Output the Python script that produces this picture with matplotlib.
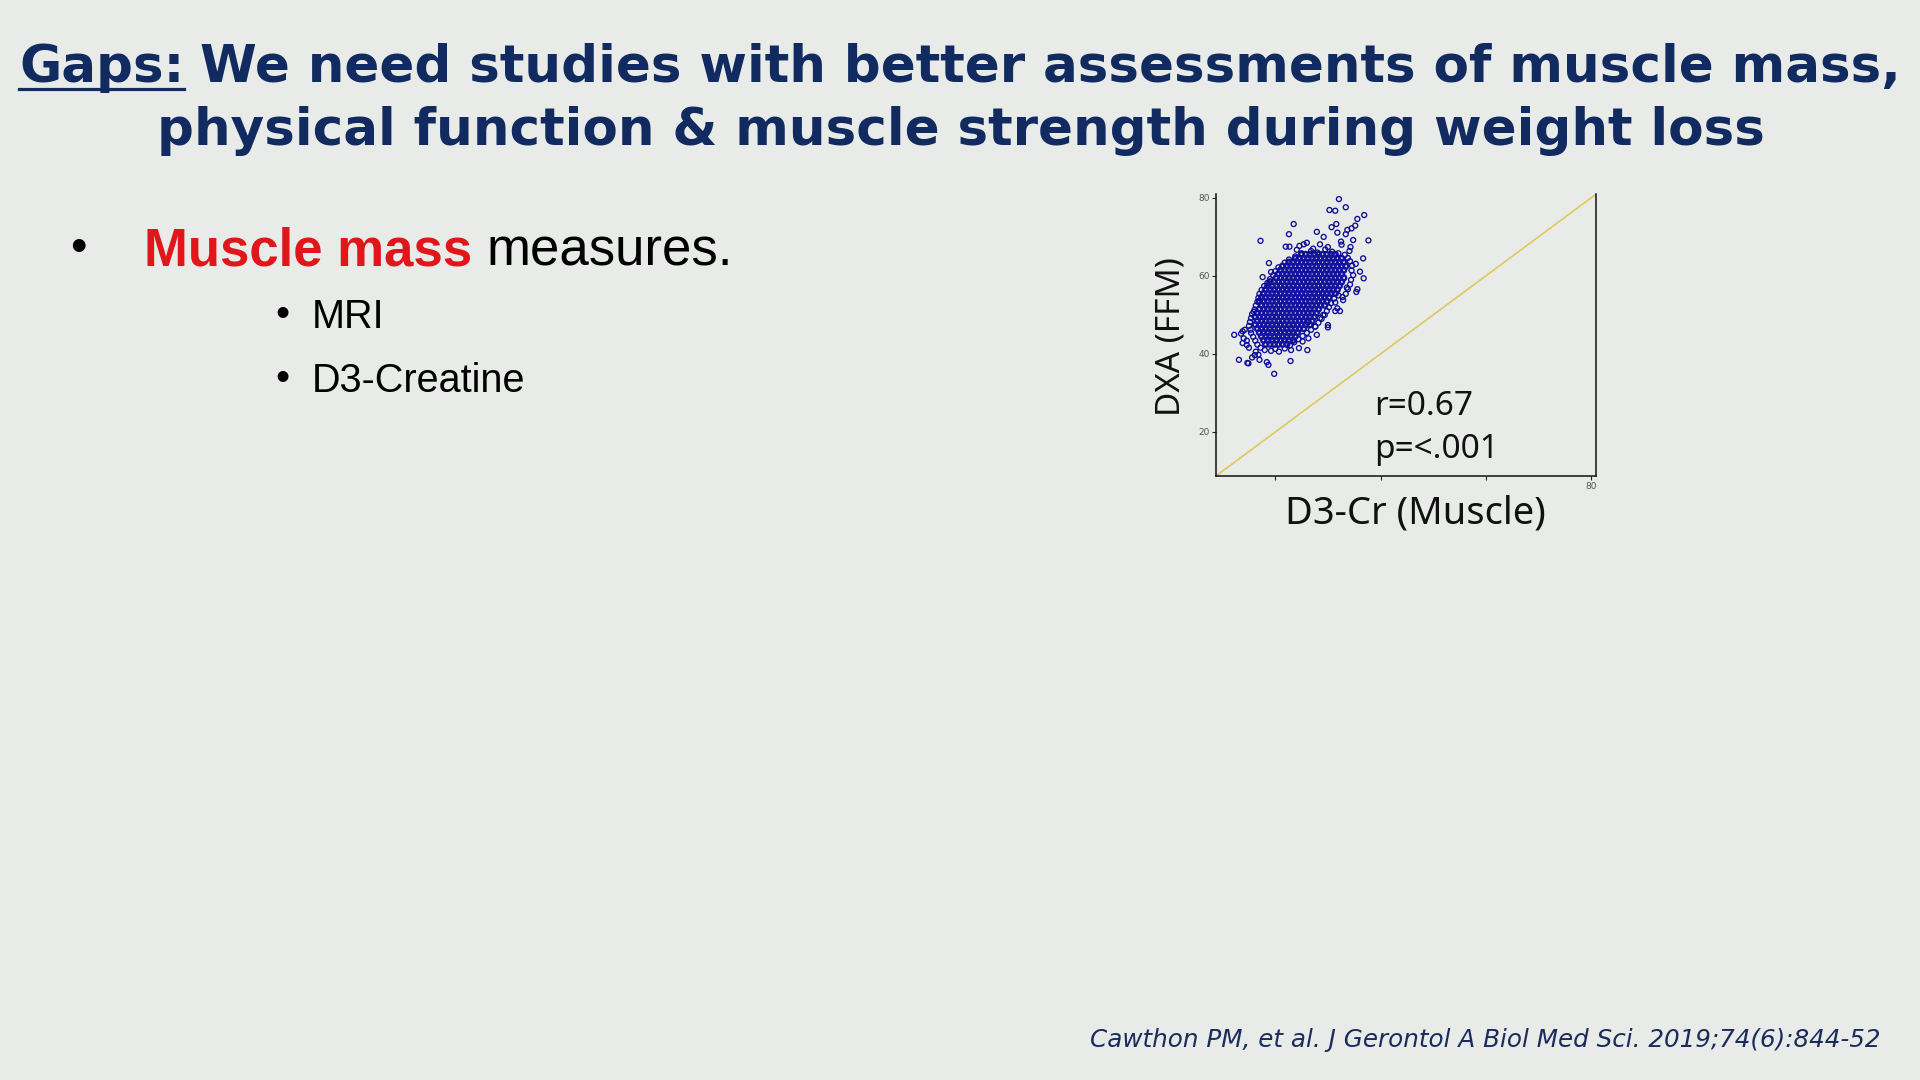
import matplotlib
matplotlib.use("Agg")
import matplotlib.pyplot as plt

# ---------------- data ----------------
title_underlined = "Gaps:"
title_line1_rest = "We need studies with better assessments of muscle mass,"
title_line2 = "physical function & muscle strength during weight loss"
bullet_red = "Muscle mass"
bullet_rest = "measures."
sub_bullets = ["MRI", "D3-Creatine"]
citation = "Cawthon PM, et al. J Gerontol A Biol Med Sci. 2019;74(6):844-52"
x_label = "D3-Cr (Muscle)"
y_label = "DXA (FFM)"
stats_lines = ["r=0.67", "p=<.001"]
y_ticks = [20, 40, 60, 80]
y_tick_labels = ["20", "40", "60", "80"]
x_ticks = [20, 40, 60, 80]
x_tick_labels = ["", "", "", "80"]
axis_limits = (8.74, 80.95, 8.72, 81.0)
identity_x = [8.72, 81.0]
identity_y = [8.72, 81.0]

# sparse outer points (D3-Cr, DXA)
outer_points = [
    (32.1, 79.7), (30.3, 76.9), (31.4, 76.7), (33.4, 77.6), (36.9, 75.6), (35.6, 74.6),
    (23.5, 73.3), (31.6, 73.3), (30.7, 72.5), (35.2, 72.9), (34.5, 72.2), (33.7, 71.8),
    (27.9, 71.3), (31.8, 71.1), (33.4, 70.7), (22.6, 70.7), (29.2, 70.0), (17.2, 69.0),
    (32.5, 68.8), (32.6, 68.0), (34.8, 69.2), (37.7, 69.1), (28.5, 68.1), (22.0, 67.5),
    (22.7, 67.5), (24.6, 67.7), (26.0, 68.5), (25.4, 68.1), (34.3, 67.4), (34.1, 66.4),
    (26.8, 66.4), (24.1, 66.7), (36.7, 64.5), (18.8, 63.3), (35.3, 63.1), (19.2, 61.0),
    (36.1, 61.1), (17.6, 59.7), (36.8, 59.4), (35.6, 56.6), (35.4, 55.9), (32.9, 53.8),
    (31.4, 53.2), (31.8, 51.7), (31.4, 51.0), (32.3, 51.0), (15.9, 50.8), (30.0, 47.4),
    (30.0, 46.8), (12.2, 44.9), (13.5, 45.2), (14.6, 42.3), (26.1, 41.0), (24.5, 41.5),
    (23.0, 41.0), (20.7, 40.6), (16.3, 40.6), (16.1, 39.7), (15.6, 39.1), (13.1, 38.5),
    (14.7, 37.7), (14.9, 37.6), (17.0, 38.5), (18.4, 37.9), (18.7, 37.2), (22.9, 38.2),
    (19.8, 34.9),
]

# points around the edge of the dense cloud
edge_points = [
    (28.0, 66.0), (29.5, 66.8), (30.8, 66.2), (32.0, 65.8), (33.2, 65.4), (33.8, 64.6),
    (30.0, 67.4), (27.2, 67.0), (25.0, 65.8), (23.8, 65.0), (22.6, 64.2), (21.8, 63.4),
    (34.2, 63.8), (34.6, 62.6), (34.5, 61.4), (34.8, 60.2), (34.4, 59.0), (34.2, 57.8),
    (33.8, 56.6), (33.4, 55.4), (32.8, 54.6), (33.6, 57.0),
    (20.6, 62.2), (20.0, 61.2), (19.6, 60.2), (19.0, 59.2), (18.5, 58.2), (17.9, 57.4),
    (17.4, 56.4), (17.0, 55.4), (16.8, 54.4), (16.6, 53.4), (16.3, 52.4), (16.1, 51.4),
    (15.6, 50.2), (15.4, 49.2), (15.2, 48.2), (15.0, 47.2), (15.3, 46.2), (15.4, 45.4),
    (15.8, 44.4), (16.2, 43.4), (16.6, 42.4), (17.2, 41.6), (18.0, 41.0), (19.2, 40.8),
    (20.0, 41.3), (21.8, 41.4), (22.8, 42.2), (23.6, 43.0), (24.4, 43.8), (25.2, 44.6),
    (26.0, 45.4), (26.8, 46.2), (27.6, 47.0), (28.2, 48.0), (28.8, 49.0), (29.4, 50.0),
    (29.8, 51.0), (30.2, 52.0), (30.6, 53.0), (31.2, 54.2), (32.0, 55.0),
    (14.0, 44.0), (14.6, 43.4), (15.0, 41.6), (13.8, 42.8), (16.8, 39.8), (14.2, 46.2),
    (13.8, 45.8), (26.2, 48.1), (27.6, 47.0), (28.5, 49.2), (29.1, 50.0), (27.9, 44.9),
    (26.3, 44.0), (25.2, 43.2),
]

# dense core of the cloud, read row by row (DXA value: D3-Cr values)
core_rows = {
    65.5: [25.0, 25.8, 26.6, 27.4, 28.2, 29.0, 29.8, 30.6, 31.4],
    64.5: [23.8, 24.6, 25.4, 26.2, 27.0, 27.8, 28.6, 29.4, 30.2, 31.0, 31.8, 32.6],
    63.5: [22.6, 23.4, 24.2, 25.0, 25.8, 26.6, 27.4, 28.2, 29.0, 29.8, 30.6, 31.4, 32.2, 33.0],
    62.5: [21.4, 22.2, 23.0, 23.8, 24.6, 25.4, 26.2, 27.0, 27.8, 28.6, 29.4, 30.2, 31.0, 31.8, 32.6, 33.4],
    61.5: [21.0, 21.8, 22.6, 23.4, 24.2, 25.0, 25.8, 26.6, 27.4, 28.2, 29.0, 29.8, 30.6, 31.4, 32.2, 33.0],
    60.5: [20.6, 21.4, 22.2, 23.0, 23.8, 24.6, 25.4, 26.2, 27.0, 27.8, 28.6, 29.4, 30.2, 31.0, 31.8, 32.6],
    59.5: [20.2, 21.0, 21.8, 22.6, 23.4, 24.2, 25.0, 25.8, 26.6, 27.4, 28.2, 29.0, 29.8, 30.6, 31.4, 32.2, 33.0],
    58.5: [19.0, 19.8, 20.6, 21.4, 22.2, 23.0, 23.8, 24.6, 25.4, 26.2, 27.0, 27.8, 28.6, 29.4, 30.2, 31.0, 31.8, 32.6],
    57.5: [18.6, 19.4, 20.2, 21.0, 21.8, 22.6, 23.4, 24.2, 25.0, 25.8, 26.6, 27.4, 28.2, 29.0, 29.8, 30.6, 31.4, 32.2],
    56.5: [18.2, 19.0, 19.8, 20.6, 21.4, 22.2, 23.0, 23.8, 24.6, 25.4, 26.2, 27.0, 27.8, 28.6, 29.4, 30.2, 31.0, 31.8],
    55.5: [17.8, 18.6, 19.4, 20.2, 21.0, 21.8, 22.6, 23.4, 24.2, 25.0, 25.8, 26.6, 27.4, 28.2, 29.0, 29.8, 30.6, 31.4],
    54.5: [17.4, 18.2, 19.0, 19.8, 20.6, 21.4, 22.2, 23.0, 23.8, 24.6, 25.4, 26.2, 27.0, 27.8, 28.6, 29.4, 30.2],
    53.5: [17.0, 17.8, 18.6, 19.4, 20.2, 21.0, 21.8, 22.6, 23.4, 24.2, 25.0, 25.8, 26.6, 27.4, 28.2, 29.0, 29.8],
    52.5: [17.4, 18.2, 19.0, 19.8, 20.6, 21.4, 22.2, 23.0, 23.8, 24.6, 25.4, 26.2, 27.0, 27.8, 28.6, 29.4],
    51.5: [17.0, 17.8, 18.6, 19.4, 20.2, 21.0, 21.8, 22.6, 23.4, 24.2, 25.0, 25.8, 26.6, 27.4, 28.2],
    50.5: [16.6, 17.4, 18.2, 19.0, 19.8, 20.6, 21.4, 22.2, 23.0, 23.8, 24.6, 25.4, 26.2, 27.0, 27.8],
    49.5: [16.2, 17.0, 17.8, 18.6, 19.4, 20.2, 21.0, 21.8, 22.6, 23.4, 24.2, 25.0, 25.8, 26.6, 27.4],
    48.5: [16.6, 17.4, 18.2, 19.0, 19.8, 20.6, 21.4, 22.2, 23.0, 23.8, 24.6, 25.4, 26.2, 27.0],
    47.5: [16.2, 17.0, 17.8, 18.6, 19.4, 20.2, 21.0, 21.8, 22.6, 23.4, 24.2, 25.0, 25.8, 26.6],
    46.5: [16.6, 17.4, 18.2, 19.0, 19.8, 20.6, 21.4, 22.2, 23.0, 23.8, 24.6, 25.4],
    45.5: [17.0, 17.8, 18.6, 19.4, 20.2, 21.0, 21.8, 22.6, 23.4, 24.2],
    44.5: [17.4, 18.2, 19.0, 19.8, 20.6, 21.4, 22.2, 23.0, 23.8],
    43.5: [17.8, 18.6, 19.4, 20.2, 21.0, 21.8, 22.6, 23.4],
    42.5: [18.2, 19.0, 19.8, 20.6, 21.4, 22.2],
}

# ---------------- styles ----------------
BG = "#e8ebe8"
NAVY = "#112a60"
RED = "#e0161b"
MARK = "#0c0c96"
CORE = "#1414a0"
LINE = "#dccb5c"
W, H = 1920, 1080


def P(x, y):
    return x / W, 1 - y / H


fig = plt.figure(figsize=(19.2, 10.8), dpi=100, facecolor=BG)
renderer = fig.canvas.get_renderer()

# ---- title ----
probe = fig.text(0, 0, title_line1_rest, fontsize=38.5, fontweight="bold", family="DejaVu Sans")
w = probe.get_window_extent(renderer).width
probe.remove()
tfs = 38.5 * 1700 / w

tg = fig.text(*P(19, 82), title_underlined, fontsize=tfs, fontweight="bold", color=NAVY,
              family="DejaVu Sans", ha="left", va="baseline")
wg = tg.get_window_extent(renderer).width
fig.text(*P(200, 82), title_line1_rest, fontsize=tfs, fontweight="bold", color=NAVY,
         family="DejaVu Sans", ha="left", va="baseline")
fig.add_artist(plt.Line2D([19 / W, (19 + wg) / W], [1 - 88.5 / H, 1 - 88.5 / H],
                          color=NAVY, lw=2.3, transform=fig.transFigure))
fig.text(*P(961, 145), title_line2, fontsize=tfs, fontweight="bold", color=NAVY,
         family="DejaVu Sans", ha="center", va="baseline")

# ---- bullets ----
fig.text(*P(78, 261), "\u2022", fontsize=34, color="black", family="Liberation Sans",
         ha="center", va="baseline")
fig.text(*P(144, 265), bullet_red, fontsize=38, fontweight="bold", color=RED,
         family="Liberation Sans", ha="left", va="baseline")
fig.text(*P(487, 265), bullet_rest, fontsize=38, color="black",
         family="Liberation Sans", ha="left", va="baseline")
for i, s in enumerate(sub_bullets):
    base = 328 + 64 * i
    fig.text(*P(282, base - 2), "\u2022", fontsize=29, color="black", family="Liberation Sans",
             ha="center", va="baseline")
    fig.text(*P(312, base), s, fontsize=28.5, color="black", family="Liberation Sans",
             ha="left", va="baseline")

# ---- citation ----
fig.text(*P(1880, 1047), citation, fontsize=17.7, style="italic", color="#1a2b5c",
         family="DejaVu Sans", ha="right", va="baseline")

# ---- scatter ----
ax = fig.add_axes([1216 / W, 1 - 476 / H, 380 / W, 282 / H])
ax.set_facecolor("none")
cx, cy = [], []
for yv, row in core_rows.items():
    for xv in row:
        cx.append(xv)
        cy.append(yv)
ox = [p[0] for p in edge_points + outer_points]
oy = [p[1] for p in edge_points + outer_points]
ax.plot(identity_x, identity_y, color=LINE, lw=1.2, zorder=1)
ax.scatter(cx, cy, s=13, facecolors="none", edgecolors=CORE, linewidths=1.7, zorder=2)
ax.scatter(ox, oy, s=13, facecolors="none", edgecolors=MARK, linewidths=0.95, zorder=3)
ax.set_xlim(axis_limits[0], axis_limits[1])
ax.set_ylim(axis_limits[2], axis_limits[3])
ax.set_yticks(y_ticks)
ax.set_yticklabels(y_tick_labels)
ax.set_xticks(x_ticks)
ax.set_xticklabels(x_tick_labels)
ax.tick_params(axis="both", length=3, width=0.8, color="#222222", labelsize=6.5,
               labelcolor="#555555", pad=1.5)
ax.spines["top"].set_visible(False)
for side in ["left", "bottom", "right"]:
    ax.spines[side].set_color("#111111")
    ax.spines[side].set_linewidth(1.1)

ax.set_xlabel(x_label, fontsize=27.4, family="Noto Sans", color="#111111")
ax.xaxis.label.set_va("baseline")
ax.xaxis.set_label_coords((1415 - 1216) / 380, (476 - 524) / 282)
ax.set_ylabel(y_label, fontsize=24, family="Noto Sans", color="#111111")
ax.yaxis.label.set_va("center")
ax.yaxis.set_label_coords((1171 - 1216) / 380, (476 - 337) / 282)

for i, s in enumerate(stats_lines):
    fig.text(*P(1374, 415 + 43 * i), s, fontsize=24, family="Noto Sans", color="#111111",
             ha="left", va="baseline")

fig.savefig("out.png", dpi=100, facecolor=BG)
